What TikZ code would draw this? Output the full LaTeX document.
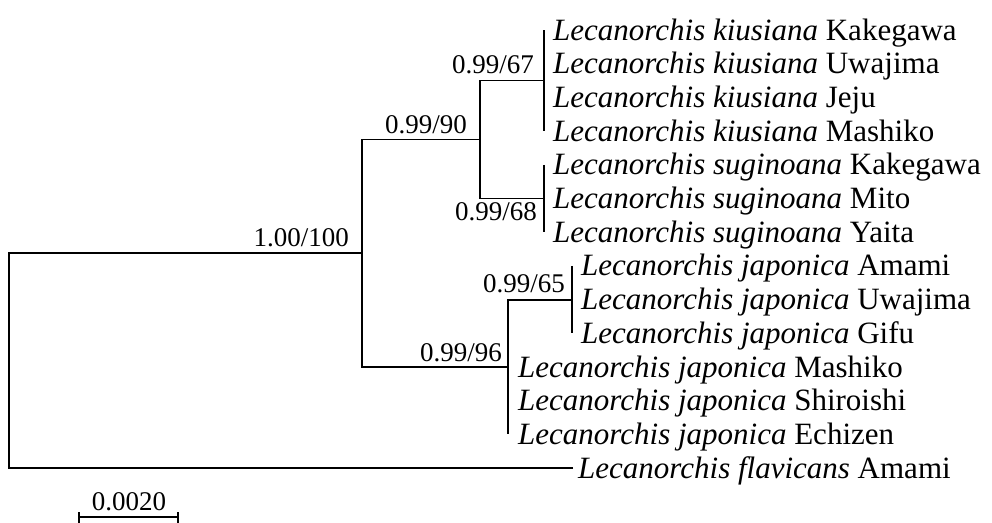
\documentclass[tikz,border=0pt]{standalone}
\usepackage{fontspec}
\setmainfont{Liberation Serif}
\begin{document}
\begin{tikzpicture}[x=1pt,y=-1pt,
  branch/.style={line width=1.9pt},
  tiplabel/.style={anchor=base west, inner sep=0pt, font=\fontsize{31}{31}\selectfont},
  support/.style={anchor=base east, inner sep=0pt, font=\fontsize{27}{27}\selectfont},
  scalelabel/.style={anchor=base, inner sep=0pt, font=\fontsize{27}{27}\selectfont}]
\useasboundingbox (0,0) rectangle (992,522);
% internal nodes
\coordinate (root) at (9,253.2);
\coordinate (n100) at (362,253.2);
\coordinate (n90) at (480,139.5);
\coordinate (nK) at (544,80.5);
\coordinate (nS) at (544,198.5);
\coordinate (n96) at (508,367);
\coordinate (n65) at (572,299.6);
\coordinate (outg) at (573,468.1);
% tip ends
\coordinate (k1) at (544,30);
\coordinate (k4) at (544,131.1);
\coordinate (s1) at (544,164.8);
\coordinate (s3) at (544,232.2);
\coordinate (j1) at (572,265.9);
\coordinate (j3) at (572,333.3);
\coordinate (j6) at (508,434.4);
% branches
\draw[branch] (outg) -| (root) -- (n100);
\draw[branch] (n90) -| (n100) |- (n96);
\draw[branch] (nK) -| (n90) |- (nS);
\draw[branch] (k1) -- (k4);
\draw[branch] (s1) -- (s3);
\draw[branch] (n65) -| (n96) |- (j6);
\draw[branch] (j1) -- (j3);
% tip labels
\node[tiplabel] (t1) at (553,40) {\textit{Lecanorchis kiusiana} Kakegawa};
\node[tiplabel] (t2) at (553,73.7) {\textit{Lecanorchis kiusiana} Uwajima};
\node[tiplabel] (t3) at (553,107.4) {\textit{Lecanorchis kiusiana} Jeju};
\node[tiplabel] (t4) at (553,141.1) {\textit{Lecanorchis kiusiana} Mashiko};
\node[tiplabel] (t5) at (553,174.8) {\textit{Lecanorchis suginoana} Kakegawa};
\node[tiplabel] (t6) at (553,208.5) {\textit{Lecanorchis suginoana} Mito};
\node[tiplabel] (t7) at (553,242.2) {\textit{Lecanorchis suginoana} Yaita};
\node[tiplabel] (t8) at (581,275.9) {\textit{Lecanorchis japonica} Amami};
\node[tiplabel] (t9) at (581,309.6) {\textit{Lecanorchis japonica} Uwajima};
\node[tiplabel] (t10) at (581,343.3) {\textit{Lecanorchis japonica} Gifu};
\node[tiplabel] (t11) at (518,377) {\textit{Lecanorchis japonica} Mashiko};
\node[tiplabel] (t12) at (518,410.7) {\textit{Lecanorchis japonica} Shiroishi};
\node[tiplabel] (t13) at (518,444.4) {\textit{Lecanorchis japonica} Echizen};
\node[tiplabel] (t14) at (578,478.1) {\textit{Lecanorchis flavicans} Amami};
% support values
\node[support] (s100) at (349,246.2) {1.00/100};
\node[support] (s90) at (467,133.5) {0.99/90};
\node[support] (s67) at (534,73.5) {0.99/67};
\node[support] (s68) at (537,220.5) {0.99/68};
\node[support] (s65) at (565,292.6) {0.99/65};
\node[support] (s96) at (502,361) {0.99/96};
% scale bar
\coordinate (sbL) at (79,517);
\coordinate (sbR) at (178,517);
\draw[branch] (sbL) -- (sbR);
\draw[branch] ([yshift=-6pt]sbL) -- ([yshift=5pt]sbL);
\draw[branch] ([yshift=-6pt]sbR) -- ([yshift=5pt]sbR);
\node[scalelabel] (sbtext) at (129,510) {0.0020};
\end{tikzpicture}
\end{document}
